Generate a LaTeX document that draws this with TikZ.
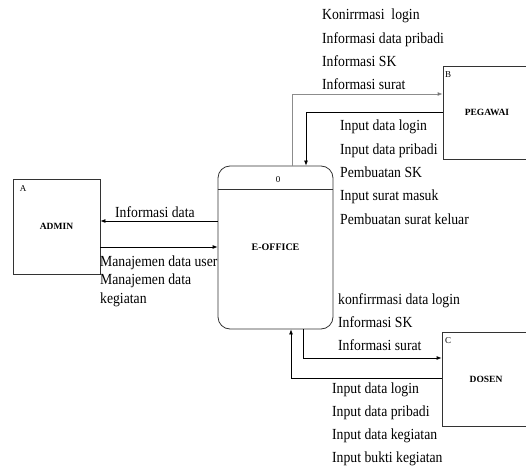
\documentclass[tikz,border=0pt]{standalone}
\usepackage{fontspec}
\setmainfont{Liberation Serif}
\usetikzlibrary{arrows.meta}
\tikzset{
  boxent/.style={draw=black!80, line width=0.8pt, rectangle, inner sep=0pt, font=\fontsize{9.5}{11}\selectfont\bfseries},
  procbox/.style={draw=black!80, line width=0.8pt, rectangle, rounded corners=12pt, inner sep=0pt, font=\fontsize{10}{12}\selectfont\bfseries},
  flow/.style={line width=0.8pt, -{Latex[length=5pt,width=4pt]}},
  flowgray/.style={line width=0.8pt, draw=black!45, -{Latex[length=5pt,width=4pt,fill=black]}},
  lbl/.style={anchor=base west, inner sep=0pt, xscale=0.89, font=\fontsize{15.4}{18}\selectfont},
  idl/.style={inner sep=0pt, font=\fontsize{9}{10}\selectfont},
}
\begin{document}
\begin{tikzpicture}[x=1pt,y=-1pt]
\useasboundingbox (0,0) rectangle (526,470);
% entities
\node[boxent, minimum width=87pt, minimum height=95pt] (admin) at (56.5,226.5) {ADMIN};
\node[boxent, minimum width=88pt, minimum height=93pt] (pegawai) at (487,112.5) {PEGAWAI};
\node[boxent, minimum width=88pt, minimum height=94pt] (dosen) at (486,379) {DOSEN};
\node[procbox, minimum width=115pt, minimum height=163pt] (proc) at (275.5,247.5) {E-OFFICE};
\draw[draw=black!80, line width=0.8pt] (proc.west |- 0,189) -- (proc.east |- 0,189);
% ids
\node[idl] (ida) at (23,189) {A};
\node[idl] (idb) at (448,75) {B};
\node[idl] (idc) at (448,341) {C};
\node[idl] (id0) at (278,180) {0};
% flows admin
\draw[flow] (proc.west |- 0,221) -- (admin.east |- 0,221);
\draw[flow] (admin.east |- 0,247) -- (proc.west |- 0,247);
% flows pegawai
\draw[flowgray] (proc.north -| 292,0) |- (pegawai.west |- 0,94);
\draw[flow] (pegawai.west |- 0,112) -| (proc.north -| 306,0);
% flows dosen
\draw[flow] (proc.south -| 303,0) |- (dosen.west |- 0,358);
\draw[flow] (dosen.west |- 0,378) -| (proc.south -| 291,0);
% labels
\node[lbl] (l1) at (115,217) {Informasi data};
\foreach \t [count=\i] in {Manajemen data user, Manajemen data, kegiatan}
  \node[lbl] (m\i) at (100,{266+18.5*(\i-1)}) {\t};
\foreach \t [count=\i] in {Konirrmasi\ \ login, Informasi data pribadi, Informasi SK, Informasi surat}
  \node[lbl] (p\i) at (322,{20+23.3*(\i-1)}) {\t};
\foreach \t [count=\i] in {Input data login, Input data pribadi, Pembuatan SK, Input surat masuk, Pembuatan surat keluar}
  \node[lbl] (q\i) at (340,{131+23.3*(\i-1)}) {\t};
\foreach \t [count=\i] in {konfirrmasi data login, Informasi SK, Informasi surat}
  \node[lbl] (r\i) at (338,{304+23*(\i-1)}) {\t};
\foreach \t [count=\i] in {Input data login, Input data pribadi, Input data kegiatan, Input bukti kegiatan}
  \node[lbl] (s\i) at (332,{393+23.3*(\i-1)}) {\t};
\end{tikzpicture}
\end{document}
